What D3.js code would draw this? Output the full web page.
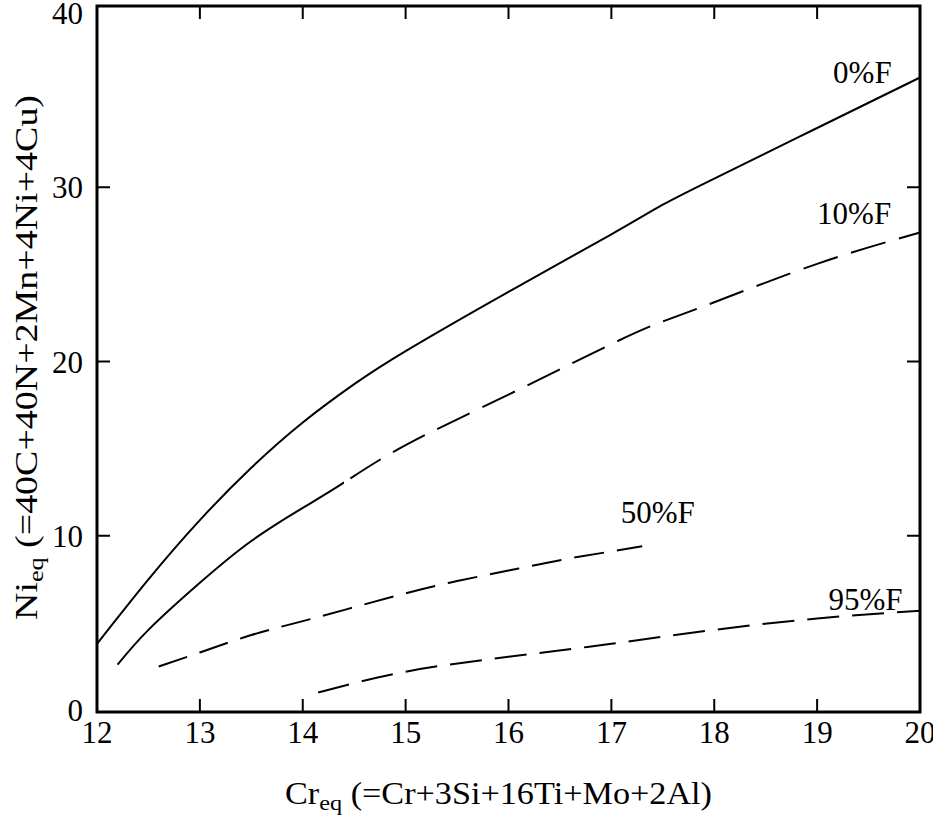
<!DOCTYPE html>
<html>
<head>
<meta charset="utf-8">
<script src="https://cdn.jsdelivr.net/npm/d3@7"></script>
<style>
  html, body { margin: 0; padding: 0; background: #fff; }
  text { font-family: "Liberation Serif", "Times New Roman", serif; fill: #000; }
</style>
</head>
<body>
<svg id="chart" width="933" height="815"></svg>
<script>
// ---- data ----
const xTicks = [12, 13, 14, 15, 16, 17, 18, 19, 20];
const yTicks = [0, 10, 20, 30, 40];

const cr0 = [12, 12.5, 13, 13.5, 14, 14.5, 15, 16, 17, 17.5, 18, 19, 20];
const ni0 = [3.8, 7.5, 10.9, 13.9, 16.5, 18.7, 20.6, 24.0, 27.3, 29.0, 30.5, 33.4, 36.3];

const cr10 = [12.2, 12.5, 13, 13.5, 14, 14.4, 15, 16, 17, 17.5, 18, 19, 20];
const ni10 = [2.6, 4.6, 7.3, 9.7, 11.6, 13.05, 15.2, 18.1, 21.0, 22.3, 23.4, 25.6, 27.4];
const solidUntil10 = 14.4;

const cr50 = [12.6, 13, 13.5, 14, 14.5, 15, 15.5, 16, 16.5, 17, 17.3];
const ni50 = [2.5, 3.3, 4.3, 5.1, 5.9, 6.7, 7.4, 8.0, 8.6, 9.1, 9.4];

const cr95 = [14.15, 15, 16, 17, 18, 19, 20];
const ni95 = [1.0, 2.2, 3.05, 3.8, 4.6, 5.25, 5.7];

const curveLabels = ["0%F", "10%F", "50%F", "95%F"];
const labelAt = [[19.44, 35.98], [19.36, 27.9], [17.45, 10.73], [19.47, 5.74]];

// ---- layout ----
const svg = d3.select("#chart");
const x = d3.scaleLinear().domain([12, 20]).range([97, 920]);
const y = d3.scaleLinear().domain([0, 40]).range([710, 13]);
const frameTop = 6, frameBottom = 712;

const zip = (a, b) => a.map((v, i) => [v, b[i]]);
const line = d3.line().x(d => x(d[0])).y(d => y(d[1])).curve(d3.curveNatural);

// clip regions for the 10%F solid / dashed split
const defs = svg.append("defs");
defs.append("clipPath").attr("id", "solidPart").append("rect")
  .attr("x", 0).attr("y", 0).attr("width", x(solidUntil10)).attr("height", 815);
defs.append("clipPath").attr("id", "dashPart").append("rect")
  .attr("x", x(solidUntil10)).attr("y", 0).attr("width", 933 - x(solidUntil10)).attr("height", 815);

// frame
svg.append("rect")
  .attr("x", x(12)).attr("y", frameTop)
  .attr("width", x(20) - x(12)).attr("height", frameBottom - frameTop)
  .attr("fill", "none").attr("stroke", "#000").attr("stroke-width", 3);

// inward ticks
const tickLen = 13;
const inner = xTicks.slice(1, -1);
const innerY = yTicks.slice(1, -1);
const tg = svg.append("g").attr("stroke", "#000").attr("stroke-width", 2);
inner.forEach(v => {
  tg.append("line").attr("x1", x(v)).attr("x2", x(v)).attr("y1", frameBottom).attr("y2", frameBottom - tickLen);
  tg.append("line").attr("x1", x(v)).attr("x2", x(v)).attr("y1", frameTop).attr("y2", frameTop + tickLen);
});
innerY.forEach(v => {
  tg.append("line").attr("y1", y(v)).attr("y2", y(v)).attr("x1", x(12)).attr("x2", x(12) + tickLen);
  tg.append("line").attr("y1", y(v)).attr("y2", y(v)).attr("x1", x(20)).attr("x2", x(20) - tickLen);
});

// tick labels
svg.append("g").selectAll("text").data(xTicks).join("text")
  .attr("x", d => x(d)).attr("y", 743)
  .attr("text-anchor", "middle").attr("font-size", 31)
  .text(d => d);
svg.append("g").selectAll("text").data(yTicks).join("text")
  .attr("x", 83).attr("y", d => y(d) + 11)
  .attr("text-anchor", "end").attr("font-size", 31)
  .text(d => d);

// curves
const cg = svg.append("g").attr("fill", "none").attr("stroke", "#000").attr("stroke-width", 2);
cg.append("path").attr("d", line(zip(cr0, ni0)));
const p10 = zip(cr10, ni10);
cg.append("path").attr("d", line(p10)).attr("clip-path", "url(#solidPart)");
cg.append("path").attr("d", line(p10)).attr("clip-path", "url(#dashPart)").attr("stroke-dasharray", "36,14");
cg.append("path").attr("d", line(zip(cr50, ni50))).attr("stroke-dasharray", "30,13");
cg.append("path").attr("d", line(zip(cr95, ni95))).attr("stroke-dasharray", "32,13");

// curve labels
svg.append("g").selectAll("text").data(curveLabels).join("text")
  .attr("x", (d, i) => x(labelAt[i][0])).attr("y", (d, i) => y(labelAt[i][1]))
  .attr("text-anchor", "middle").attr("font-size", 31)
  .text(d => d);

// axis titles
const xt = svg.append("text").attr("x", 285).attr("y", 804).attr("font-size", 31)
  .attr("textLength", 427).attr("lengthAdjust", "spacingAndGlyphs");
xt.append("tspan").text("Cr");
xt.append("tspan").attr("font-size", 22).attr("dy", 6).text("eq");
xt.append("tspan").attr("dy", -6).text(" (=Cr+3Si+16Ti+Mo+2Al)");

const yt = svg.append("text").attr("transform", "translate(37,620) rotate(-90)").attr("font-size", 32)
  .attr("textLength", 525).attr("lengthAdjust", "spacingAndGlyphs");
yt.append("tspan").text("Ni");
yt.append("tspan").attr("font-size", 22).attr("dy", 6).text("eq");
yt.append("tspan").attr("dy", -6).text(" (=40C+40N+2Mn+4Ni+4Cu)");
</script>
</body>
</html>
